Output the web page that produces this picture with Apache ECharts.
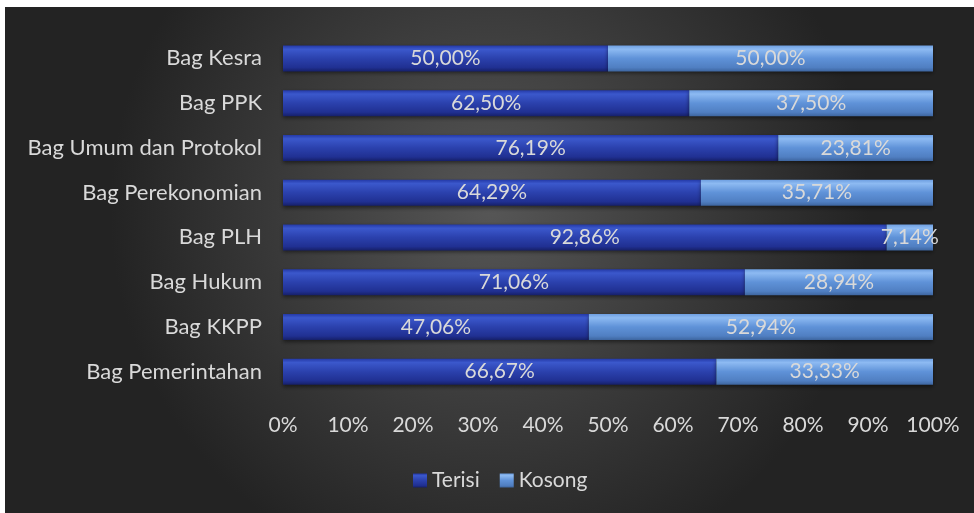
<!DOCTYPE html>
<html>
<head>
<meta charset="utf-8">
<script src="https://cdn.jsdelivr.net/npm/echarts@6/dist/echarts.min.js"></script>
<style>
  html, body { margin: 0; padding: 0; background: #ffffff; }
  #chart { position: absolute; left: 5px; top: 7px; width: 969px; height: 506px; }
</style>
</head>
<body>
<div id="chart"></div>
<script>
// categories from bottom to top (as drawn)
var categories = ['Bag Pemerintahan', 'Bag KKPP', 'Bag Hukum', 'Bag PLH', 'Bag Perekonomian', 'Bag Umum dan Protokol', 'Bag PPK', 'Bag Kesra']
var terisi = [66.67, 47.06, 71.06, 92.86, 64.29, 76.19, 62.50, 50.00]
var kosong = [33.33, 52.94, 28.94, 7.14, 35.71, 23.81, 37.50, 50.00]
var seriesNames = ['Terisi', 'Kosong']

var txtColor = '#d9d9d9'
var fontFam = 'Lato, "Open Sans", sans-serif'

function pct(p) {
  return p.value.toFixed(2).replace('.', ',') + '%'
}

var chart = echarts.init(document.getElementById('chart'))
chart.setOption({
  backgroundColor: {
    type: 'radial', x: 0.5, y: 0.4, r: 0.75,
    colorStops: [
      { offset: 0, color: '#565656' },
      { offset: 1, color: '#232323' }
    ]
  },
  textStyle: { fontFamily: fontFam },
  grid: { left: 278, right: 41, top: 29, bottom: 119, containLabel: false },
  legend: {
    data: seriesNames,
    left: 403,
    top: 458,
    itemWidth: 14,
    itemHeight: 14,
    itemGap: 20,
    icon: 'rect',
    textStyle: { color: txtColor, fontSize: 21, fontFamily: fontFam }
  },
  xAxis: {
    type: 'value',
    min: 0,
    max: 100,
    interval: 10,
    axisLine: { show: false },
    axisTick: { show: false },
    splitLine: { show: false },
    axisLabel: { color: txtColor, fontSize: 21, margin: 21, formatter: '{value}%' }
  },
  yAxis: {
    type: 'category',
    data: categories,
    axisLine: { show: false },
    axisTick: { show: false },
    axisLabel: { color: txtColor, fontSize: 22, margin: 21 }
  },
  series: [
    {
      name: 'Terisi',
      type: 'bar',
      stack: 'all',
      barWidth: 26,
      data: terisi,
      itemStyle: {
        color: {
          type: 'linear', x: 0, y: 0, x2: 0, y2: 1,
          colorStops: [
            { offset: 0, color: '#2338a6' },
            { offset: 0.15, color: '#3b58cc' },
            { offset: 0.5, color: '#2b41ad' },
            { offset: 0.85, color: '#203092' },
            { offset: 1, color: '#16206a' }
          ]
        },
        shadowColor: 'rgba(0,0,0,0.5)',
        shadowBlur: 4,
        shadowOffsetY: 2
      },
      label: { show: true, position: 'inside', color: txtColor, fontSize: 21, fontFamily: fontFam, formatter: pct }
    },
    {
      name: 'Kosong',
      type: 'bar',
      stack: 'all',
      barWidth: 26,
      data: kosong,
      itemStyle: {
        color: {
          type: 'linear', x: 0, y: 0, x2: 0, y2: 1,
          colorStops: [
            { offset: 0, color: '#6d9ee0' },
            { offset: 0.15, color: '#8dbaf2' },
            { offset: 0.5, color: '#5f92d8' },
            { offset: 0.85, color: '#507fc2' },
            { offset: 1, color: '#3e66a0' }
          ]
        },
        shadowColor: 'rgba(0,0,0,0.5)',
        shadowBlur: 4,
        shadowOffsetY: 2
      },
      label: { show: true, position: 'inside', color: txtColor, fontSize: 21, fontFamily: fontFam, formatter: pct }
    }
  ]
})
</script>
</body>
</html>
